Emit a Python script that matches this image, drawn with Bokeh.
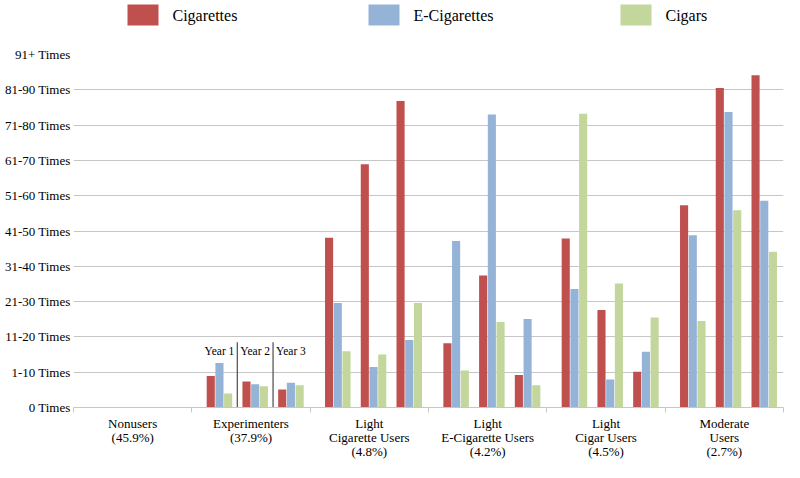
from bokeh.plotting import figure
from bokeh.layouts import column
from bokeh.models import (ColumnDataSource, FixedTicker, Range1d)
from bokeh.embed import file_html
from bokeh.resources import INLINE
from bokeh.core.properties import value

# ---------------- data ----------------
categories = ["Nonusers\n(45.9%)", "Experimenters\n(37.9%)",
              "Light\nCigarette Users\n(4.8%)", "Light\nE-Cigarette Users\n(4.2%)",
              "Light\nCigar Users\n(4.5%)", "Moderate\nUsers\n(2.7%)"]
years = ["Year 1", "Year 2", "Year 3"]
series = ["Cigarettes", "E-Cigarettes", "Cigars"]
y_tick_labels = ["0 Times", "1-10 Times", "11-20 Times", "21-30 Times", "31-40 Times",
                 "41-50 Times", "51-60 Times", "61-70 Times", "71-80 Times",
                 "81-90 Times", "91+ Times"]

# values in axis-step units (0 = "0 Times", 10 = "91+ Times")
cigarettes_year1 = [0, 0.89, 4.81, 1.82, 4.79, 5.73]
cigarettes_year2 = [0, 0.74, 6.89, 3.74, 2.76, 9.05]
cigarettes_year3 = [0, 0.51, 8.68, 0.92, 1.01, 9.41]
ecigarettes_year1 = [0, 1.26, 2.96, 4.72, 3.36, 4.88]
ecigarettes_year2 = [0, 0.66, 1.15, 8.30, 0.79, 8.37]
ecigarettes_year3 = [0, 0.70, 1.91, 2.51, 1.58, 5.86]
cigars_year1 = [0, 0.40, 1.59, 1.05, 8.32, 2.45]
cigars_year2 = [0, 0.60, 1.50, 2.42, 3.51, 5.59]
cigars_year3 = [0, 0.63, 2.96, 0.63, 2.55, 4.41]

colors = ["#C0504D", "#95B3D7", "#C3D69B"]
values = {
    "Cigarettes": [cigarettes_year1, cigarettes_year2, cigarettes_year3],
    "E-Cigarettes": [ecigarettes_year1, ecigarettes_year2, ecigarettes_year3],
    "Cigars": [cigars_year1, cigars_year2, cigars_year3],
}

# ---------------- layout constants ----------------
LEFT_PAD = 0.123      # offset of first year group inside a category
GROUP_PITCH = 0.302   # distance between year groups
BAR_W = 0.0736        # bar width (category units)
FONT = value("Liberation Serif")
GRID = "#c6c6c6"
LEG_H = 30
FRAME_L = 73
FRAME_R = 783

# ---------------- legend strip (pixel-mapped ranges, frame aligned with chart) ----------------
leg = figure(width=784, height=LEG_H, output_backend="svg", toolbar_location=None,
             x_range=Range1d(FRAME_L, FRAME_R), y_range=Range1d(0, LEG_H),
             x_axis_location=None, y_axis_location=None,
             min_border_left=FRAME_L, min_border_right=784 - FRAME_R, min_border_top=0,
             min_border_bottom=0)
leg.outline_line_color = None
leg.xgrid.grid_line_color = None
leg.ygrid.grid_line_color = None
legend_x = [127, 368, 620]     # left edge of each legend swatch
SW_W, SW_H, STANDOFF = 31, 21, 14
leg.rect(x=[lx + SW_W / 2 for lx in legend_x], y=[LEG_H - 14.5] * len(series),
         width=SW_W, height=SW_H, fill_color=colors, line_color=None)
leg.text(x=[lx + SW_W + STANDOFF for lx in legend_x], y=[LEG_H - 14.5] * len(series),
         text=series, text_font=FONT, text_font_size="16px", text_align="left",
         text_baseline="middle", text_color="black")

# ---------------- main chart ----------------
p = figure(width=784, height=462 - LEG_H, output_backend="svg", toolbar_location=None,
           x_range=Range1d(0, len(categories)), y_range=Range1d(0, 10),
           min_border_left=FRAME_L, min_border_right=784 - FRAME_R,
           min_border_top=54 - LEG_H, min_border_bottom=48)
p.outline_line_color = None
p.xgrid.grid_line_color = None
p.ygrid.grid_line_color = GRID
p.ygrid.ticker = FixedTicker(ticks=list(range(len(y_tick_labels))))

# y axis
p.yaxis.ticker = FixedTicker(ticks=list(range(len(y_tick_labels))))
p.yaxis.major_label_overrides = {i: t for i, t in enumerate(y_tick_labels)}
p.yaxis.axis_line_color = None
p.yaxis.major_tick_line_color = None
p.yaxis.major_tick_out = 0
p.yaxis.major_tick_in = 0
p.yaxis.minor_tick_line_color = None
p.yaxis.minor_tick_out = 0
p.yaxis.major_label_standoff = 3
p.yaxis.major_label_text_font = "Liberation Serif"
p.yaxis.major_label_text_font_size = "13px"
p.yaxis.major_label_text_color = "black"

# x axis
centers = [i + 0.5 for i in range(len(categories))]
p.xaxis.ticker = FixedTicker(ticks=centers, minor_ticks=list(range(len(categories) + 1)))
p.xaxis.major_label_overrides = {c: lab for c, lab in zip(centers, categories)}
p.xaxis.axis_line_color = GRID
p.xaxis.major_tick_line_color = None
p.xaxis.major_tick_out = 0
p.xaxis.major_tick_in = 0
p.xaxis.minor_tick_line_color = GRID
p.xaxis.minor_tick_out = 5
p.xaxis.minor_tick_in = 0
p.xaxis.major_label_standoff = 3
p.xaxis.major_label_text_font = "Liberation Serif"
p.xaxis.major_label_text_font_size = "13px"
p.xaxis.major_label_text_line_height = 0.95
p.xaxis.major_label_text_color = "black"

# bars
for k, name in enumerate(series):
    for j, yr in enumerate(years):
        vals = values[name][j]
        xs = [i + LEFT_PAD + GROUP_PITCH * j + BAR_W * (k + 0.5) for i in range(len(categories))]
        src = ColumnDataSource(dict(x=xs, top=vals))
        p.vbar(x="x", top="top", bottom=0, width=BAR_W * 0.93, source=src,
               fill_color=colors[k], line_color=None)

# year dividers and labels inside "Experimenters"
exp_idx = 1
div_x = []
for j in range(len(years) - 1):
    end_prev = exp_idx + LEFT_PAD + GROUP_PITCH * j + 3 * BAR_W
    start_next = exp_idx + LEFT_PAD + GROUP_PITCH * (j + 1)
    div_x.append((end_prev + start_next) / 2)
p.segment(x0=div_x, y0=[0] * len(div_x), x1=div_x, y1=[1.85] * len(div_x),
          line_color="#595959", line_width=1.3)
label_x = [exp_idx + LEFT_PAD + GROUP_PITCH * j + 1.5 * BAR_W for j in range(len(years))]
p.text(x=label_x, y=[1.61] * len(years), text=years, text_font=FONT,
       text_font_size="11.5px", text_align="center", text_baseline="middle",
       text_color="black")

layout = column(leg, p, spacing=0)
open("out.html", "w").write(file_html(layout, INLINE))
